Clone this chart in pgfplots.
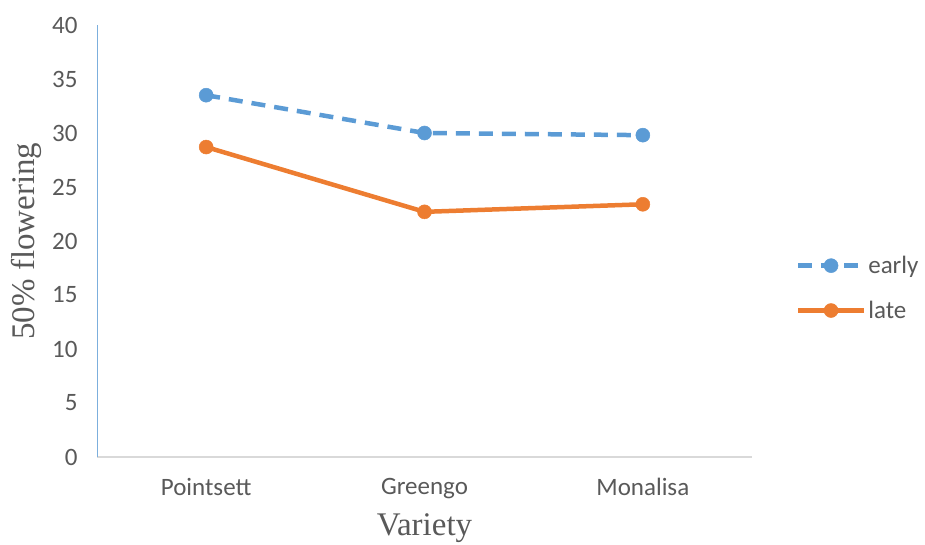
\documentclass[border=0pt]{standalone}
\usepackage{pgfplots}
\pgfplotsset{compat=1.18}
\usepackage{fontspec}
\setmainfont{Carlito}
\newfontfamily\serif{Liberation Serif}
\definecolor{cblue}{HTML}{5B9BD5}
\definecolor{corange}{HTML}{ED7D31}
\definecolor{txt}{HTML}{595959}
\begin{document}
\begin{tikzpicture}[x=1pt,y=1pt]
\useasboundingbox (0,0) rectangle (925,544);
\begin{axis}[
  at={(97pt,87pt)}, anchor=south west,
  scale only axis, width=655pt, height=432pt,
  xmin=-0.5, xmax=2.5, ymin=0, ymax=40,
  xtick={0,1,2}, xticklabels={Pointsett,Greengo,Monalisa},
  ytick={0,5,...,40},
  axis x line*=bottom, axis y line*=left,
  x axis line style={draw=black!15, line width=1.2pt, -},
  y axis line style={draw=cblue!80, line width=0.8pt, -},
  tick style={draw=none},
  ticklabel style={font=\fontsize{25}{28}\selectfont, text=txt},
  /pgf/number format/assume math mode=true,
  yticklabel style={xshift=-16pt},
  xticklabel style={yshift=-18pt},
  xlabel={\serif Variety}, ylabel={\serif 50\% flowering},
  label style={font=\fontsize{33}{36}\selectfont, text=txt},
  xlabel style={yshift=-8pt},
  ylabel style={yshift=4pt},
  legend style={at={(1.062,0.391)}, anchor=west, draw=none, fill=none,
    font=\fontsize{25}{28}\selectfont, text=txt, row sep=22pt,
    /tikz/every even column/.append style={column sep=2pt}},
  legend cell align=left,
  legend image code/.code={\draw[mark repeat=2,mark phase=2] plot coordinates {(0pt,0pt) (33pt,0pt) (66pt,0pt)};},
]
\addplot[cblue, line width=4.5pt, dash pattern=on 14pt off 9pt, mark=*, mark size=7pt, mark options={solid, line width=0.5pt}]
  coordinates {(0,33.5) (1,30.0) (2,29.8)};
\addlegendentry{early}
\addplot[corange, line width=4.5pt, mark=*, mark size=7pt, mark options={line width=0.5pt}]
  coordinates {(0,28.7) (1,22.7) (2,23.4)};
\addlegendentry{late}
\end{axis}
\end{tikzpicture}
\end{document}
